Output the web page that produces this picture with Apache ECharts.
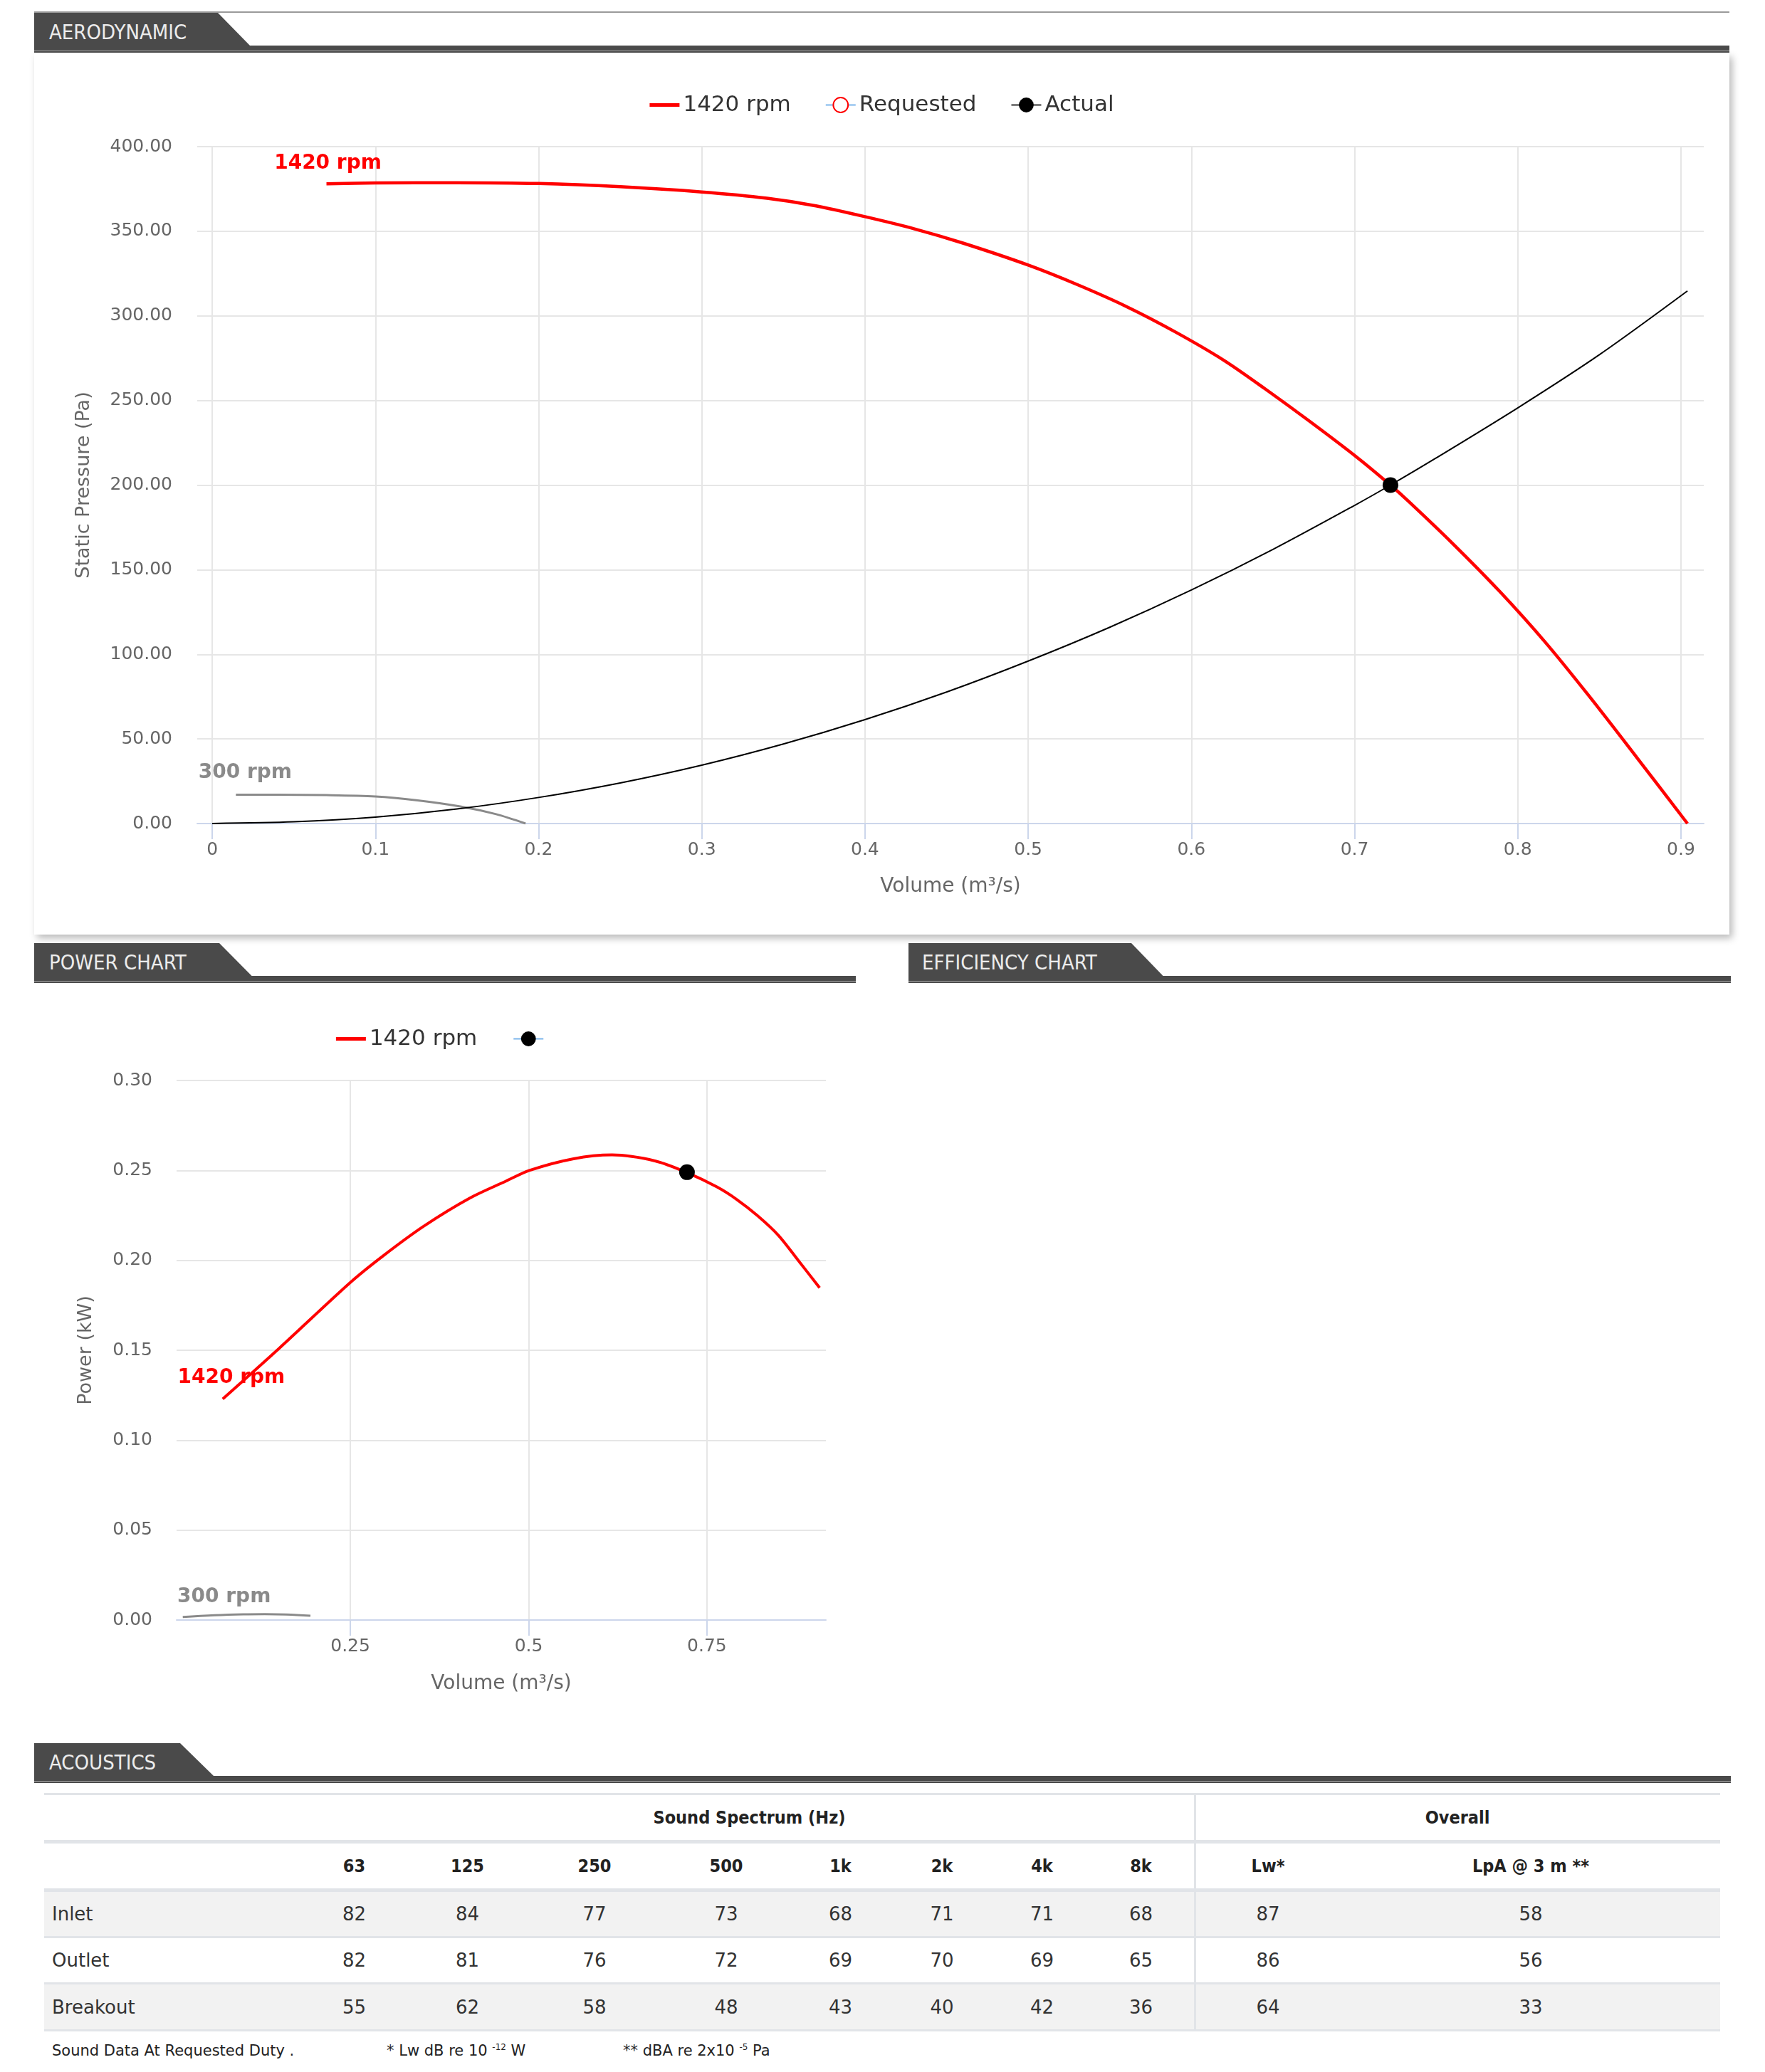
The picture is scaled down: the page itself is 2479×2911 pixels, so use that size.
<!DOCTYPE html>
<html>
<head>
<meta charset="utf-8">
<script src="https://cdn.jsdelivr.net/npm/echarts@6/dist/echarts.min.js"></script>
<style>
html,body{margin:0;padding:0;background:#fff;}
body{width:2479px;height:2911px;position:relative;overflow:hidden;font-family:"DejaVu Sans",sans-serif;}
.tab{position:absolute;background:#4a4a4a;}
.tabtext{position:absolute;color:#ececec;font-family:"DejaVu Sans Condensed","DejaVu Sans",sans-serif;font-stretch:condensed;font-size:29px;white-space:nowrap;}
.bar{position:absolute;background:#4a4a4a;height:10px;}
.bar .hl{position:absolute;left:0;right:0;top:7px;height:1px;background:#a8a8a8;}
#aeroCard{position:absolute;left:48px;top:75px;width:2381px;height:1238px;background:#fff;box-shadow:4px 5px 10px rgba(0,0,0,0.28);}
#aeroChart{position:absolute;left:0;top:0;width:2381px;height:1238px;}
#powerChart{position:absolute;left:48px;top:1381px;width:1154px;height:1040px;}
.cell{position:absolute;display:flex;align-items:center;justify-content:center;white-space:nowrap;}
.hdr{font-family:"DejaVu Sans Condensed","DejaVu Sans",sans-serif;font-stretch:condensed;font-weight:bold;font-size:25px;color:#222;}
.val{font-family:"DejaVu Sans",sans-serif;font-size:26px;color:#333;}
.rowlbl{justify-content:flex-start;padding-left:11px;box-sizing:border-box;}
.line{position:absolute;background:#e1e4e8;}
.foot{position:absolute;font-family:"DejaVu Sans",sans-serif;font-size:21px;color:#222;white-space:nowrap;top:2869px;}
.foot sup{font-size:12px;vertical-align:8px;}
</style>
</head>
<body>
<div style="position:absolute;left:48px;top:16px;width:2381px;height:2px;background:#9a9a9a;"></div>
<div id="aeroCard"><div id="aeroChart"></div></div>
<div id="powerChart"></div>
<div id="acoustics"></div>
<script>
// ---------------- DATA ----------------
// Aerodynamic chart: fan curve at 1420 rpm (volume m3/s, static pressure Pa)
const fan1420Volume   = [0.070, 0.100, 0.150, 0.200, 0.250, 0.300, 0.340, 0.370, 0.400, 0.430, 0.460, 0.500, 0.530, 0.560, 0.590, 0.620, 0.645, 0.673, 0.702, 0.722, 0.733, 0.760, 0.789, 0.817, 0.844, 0.873, 0.904];
const fan1420Pressure = [378.0, 378.5, 378.7, 378.2, 376.3, 373.2, 369.5, 365.0, 358.6, 351.5, 343.0, 330.0, 318.5, 305.6, 290.6, 273.7, 257.0, 237.3, 216.0, 200.0, 190.5, 165.6, 137.1, 107.0, 75.0, 39.0, 0.0];
// fan curve at 300 rpm
const fan300Volume   = [0.0145, 0.040, 0.070, 0.100, 0.125, 0.152, 0.174, 0.192];
const fan300Pressure = [17.0, 17.0, 16.8, 16.0, 13.8, 10.1, 5.5, 0.0];
// system resistance curve
const systemVolume   = [0.000, 0.050, 0.100, 0.150, 0.200, 0.250, 0.300, 0.350, 0.400, 0.450, 0.500, 0.550, 0.600, 0.650, 0.700, 0.722, 0.750, 0.800, 0.850, 0.904];
const systemPressure = [0.0, 1.0, 3.8, 8.6, 15.4, 24.0, 34.5, 47.0, 61.4, 77.7, 96.0, 116.0, 138.0, 162.0, 188.0, 200.0, 216.0, 245.6, 277.0, 314.7];
// duty point
const dutyVolume   = [0.722];
const dutyPressure = [200.0];
const dutyPower    = [0.249];
// Power chart (volume m3/s, power kW)
const power1420Volume = [0.071, 0.150, 0.250, 0.296, 0.353, 0.417, 0.468, 0.501, 0.563, 0.617, 0.678, 0.722, 0.764, 0.792, 0.821, 0.850, 0.878, 0.908];
const power1420kW     = [0.1229, 0.1510, 0.1877, 0.2025, 0.2190, 0.2345, 0.2440, 0.2500, 0.2565, 0.2586, 0.2552, 0.2488, 0.2408, 0.2338, 0.2248, 0.2140, 0.2000, 0.1847];
const power300Volume  = [0.015, 0.060, 0.100, 0.130, 0.160, 0.194];
const power300kW      = [0.0017, 0.0027, 0.0032, 0.0033, 0.0031, 0.0024];
// axis ticks
const aeroVolumeTicks  = [0, 0.1, 0.2, 0.3, 0.4, 0.5, 0.6, 0.7, 0.8, 0.9];
const powerVolumeTicks = [0.25, 0.5, 0.75];
// Acoustics table
const bandLabels   = ['63', '125', '250', '500', '1k', '2k', '4k', '8k'];
const overallLabels = ['Lw*', 'LpA @ 3 m **'];
const rowNames     = ['Inlet', 'Outlet', 'Breakout'];
const inletValues    = [82, 84, 77, 73, 68, 71, 71, 68, 87, 58];
const outletValues   = [82, 81, 76, 72, 69, 70, 69, 65, 86, 56];
const breakoutValues = [55, 62, 58, 48, 43, 40, 42, 36, 64, 33];

// ---------------- SECTION TABS ----------------
function section(L, R, T, slantTop, slantBottom, title, textLeft){
  const tab = document.createElement('div');
  tab.className = 'tab';
  const w = slantBottom - L;
  tab.style.cssText = `left:${L}px;top:${T}px;width:${w}px;height:46px;clip-path:polygon(0 0, ${slantTop-L}px 0, 100% 100%, 0 100%);`;
  document.body.appendChild(tab);
  const bar = document.createElement('div');
  bar.className = 'bar';
  bar.style.cssText = `left:${L}px;top:${T+46}px;width:${R-L}px;`;
  bar.innerHTML = '<div class="hl"></div>';
  document.body.appendChild(bar);
  const t = document.createElement('div');
  t.className = 'tabtext';
  t.style.cssText = `left:${textLeft}px;top:${T+2}px;height:46px;line-height:50px;`;
  t.textContent = title;
  document.body.appendChild(t);
}
section(48, 2429, 18, 306, 351, 'AERODYNAMIC', 69);
section(48, 1202, 1325, 308, 353.5, 'POWER CHART', 69);
section(1275.6, 2431, 1325, 1589, 1633.5, 'EFFICIENCY CHART', 1295);
section(48, 2431, 2449, 253, 300, 'ACOUSTICS', 69);

// ---------------- CHARTS ----------------
const pairs = (xs, ys) => xs.map((x, i) => [x, ys[i]]);
const axisText = {fontFamily: 'DejaVu Sans', fontSize: 25, color: '#666666'};
const nameText = {fontFamily: 'DejaVu Sans', fontSize: 28, color: '#666666'};
const legendText = {fontFamily: 'DejaVu Sans', fontSize: 31, color: '#333333'};
const lineIcon = 'path://M0,0L44,0L44,5L0,5Z';

function seriesLabel(text, color, x, y, offset){
  return {
    symbol: 'circle', symbolSize: 1, silent: true,
    itemStyle: {color: 'rgba(0,0,0,0)'},
    data: [{coord: [x, y], label: {show: true, position: 'inside', offset: offset, formatter: text,
      color: color, fontFamily: 'DejaVu Sans', fontWeight: 'bold', fontSize: 28}}]
  };
}

const aero = echarts.init(document.getElementById('aeroChart'), null, {renderer: 'canvas'});
aero.setOption({
  animation: false,
  grid: {left: 229, right: 36, top: 131, bottom: 156},
  legend: {
    top: 52, left: 'center', itemWidth: 42, itemHeight: 26, itemGap: 48,
    textStyle: legendText,
    data: [{name: '1420 rpm', icon: lineIcon}, 'Requested', 'Actual']
  },
  xAxis: {
    type: 'value', min: -0.0092, max: 0.914,
    name: 'Volume (m³/s)', nameLocation: 'middle', nameGap: 75, nameTextStyle: nameText,
    axisLine: {show: true, onZero: false, lineStyle: {color: '#ccd6eb', width: 2}},
    axisTick: {show: true, length: 22, lineStyle: {color: '#ccd6eb', width: 2}, customValues: aeroVolumeTicks},
    axisLabel: Object.assign({customValues: aeroVolumeTicks, margin: 25, formatter: v => String(+v.toFixed(2))}, axisText),
    splitLine: {show: true, lineStyle: {color: '#e6e6e6', width: 2}}
  },
  yAxis: {
    type: 'value', min: 0, max: 400, interval: 50,
    name: 'Static Pressure (Pa)', nameLocation: 'middle', nameGap: 146,
    nameTextStyle: Object.assign({}, nameText, {fontSize: 27}),
    axisLine: {show: false}, axisTick: {show: false},
    axisLabel: Object.assign({margin: 35, formatter: v => v.toFixed(2)}, axisText),
    splitLine: {show: true, lineStyle: {color: '#e6e6e6', width: 2}}
  },
  series: [
    {name: '300 rpm', type: 'line', symbol: 'none', smooth: 0.3, data: pairs(fan300Volume, fan300Pressure),
      lineStyle: {color: '#8a8a8a', width: 3}, itemStyle: {color: '#8a8a8a'},
      markPoint: seriesLabel('300 rpm', '#8a8a8a', fan300Volume[0], fan300Pressure[0], [13, -31])},
    {name: 'System', type: 'line', symbol: 'none', smooth: 0.3, data: pairs(systemVolume, systemPressure),
      lineStyle: {color: '#000000', width: 2}, itemStyle: {color: '#000000'}},
    {name: '1420 rpm', type: 'line', symbol: 'none', smooth: 0.3, data: pairs(fan1420Volume, fan1420Pressure),
      lineStyle: {color: '#ff0000', width: 4.5}, itemStyle: {color: '#ff0000'},
      markPoint: seriesLabel('1420 rpm', '#ff0000', fan1420Volume[0], fan1420Pressure[0], [2, -29])},
    {name: 'Requested', type: 'line', symbol: 'circle', symbolSize: 18, data: pairs(dutyVolume, dutyPressure),
      lineStyle: {color: '#7cb5ec', width: 2}, itemStyle: {color: '#ffffff', borderColor: '#ff0000', borderWidth: 2}},
    {name: 'Actual', type: 'line', symbol: 'circle', symbolSize: 22, data: pairs(dutyVolume, dutyPressure),
      lineStyle: {color: '#333333', width: 2}, itemStyle: {color: '#000000'}}
  ]
});

const power = echarts.init(document.getElementById('powerChart'), null, {renderer: 'canvas'});
power.setOption({
  animation: false,
  grid: {left: 200, right: 42, top: 137, bottom: 145},
  legend: {
    top: 58, left: 'center', itemWidth: 42, itemHeight: 26, itemGap: 50,
    textStyle: legendText,
    data: [{name: '1420 rpm', icon: lineIcon}, ' ']
  },
  xAxis: {
    type: 'value', min: 0.0063, max: 0.9168,
    name: 'Volume (m³/s)', nameLocation: 'middle', nameGap: 76, nameTextStyle: nameText,
    axisLine: {show: true, onZero: false, lineStyle: {color: '#ccd6eb', width: 2}},
    axisTick: {show: true, length: 22, lineStyle: {color: '#ccd6eb', width: 2}, customValues: powerVolumeTicks},
    axisLabel: Object.assign({customValues: powerVolumeTicks, margin: 25, formatter: v => String(+v.toFixed(2))}, axisText),
    splitLine: {show: true, lineStyle: {color: '#e6e6e6', width: 2}}
  },
  yAxis: {
    type: 'value', min: 0, max: 0.30, interval: 0.05,
    name: 'Power (kW)', nameLocation: 'middle', nameGap: 114,
    nameTextStyle: Object.assign({}, nameText, {fontSize: 27}),
    axisLine: {show: false}, axisTick: {show: false},
    axisLabel: Object.assign({margin: 34, formatter: v => v.toFixed(2)}, axisText),
    splitLine: {show: true, lineStyle: {color: '#e6e6e6', width: 2}}
  },
  series: [
    {name: '300 rpm', type: 'line', symbol: 'none', smooth: 0.4, data: pairs(power300Volume, power300kW),
      lineStyle: {color: '#8a8a8a', width: 3}, itemStyle: {color: '#8a8a8a'},
      markPoint: seriesLabel('300 rpm', '#8a8a8a', power300Volume[0], power300kW[0], [58, -28])},
    {name: '1420 rpm', type: 'line', symbol: 'none', smooth: 0.3, data: pairs(power1420Volume, power1420kW),
      lineStyle: {color: '#ff0000', width: 4}, itemStyle: {color: '#ff0000'},
      markPoint: seriesLabel('1420 rpm', '#ff0000', power1420Volume[0], power1420kW[0], [12, -30])},
    {name: ' ', type: 'line', symbol: 'circle', symbolSize: 22, data: pairs(dutyVolume, dutyPower),
      lineStyle: {color: '#7cb5ec', width: 2}, itemStyle: {color: '#000000'}}
  ]
});

// ---------------- ACOUSTICS TABLE ----------------
const host = document.getElementById('acoustics');
const colEdges = [62, 427, 568, 745, 925, 1115, 1246, 1400, 1527, 1678, 1884, 2416];
const bands = [[2522, 2585], [2590, 2653], [2658, 2720], [2723, 2785], [2788, 2851]];
function add(cls, css, html){
  const d = document.createElement('div');
  d.className = cls; d.style.cssText = css; if (html !== undefined) d.innerHTML = html;
  host.appendChild(d); return d;
}
// row fills
[2, 4].forEach(r => add('line', `left:62px;width:2354px;top:${bands[r][0]}px;height:${bands[r][1]-bands[r][0]}px;background:#f2f2f2;`));
// horizontal rules
[[2519, 3], [2585, 5], [2653, 5], [2720, 3], [2785, 3], [2851, 3]].forEach(([y, h]) =>
  add('line', `left:62px;width:2354px;top:${y}px;height:${h}px;`));
// vertical separator
add('line', `left:1677px;width:3px;top:2519px;height:335px;`);
function cell(c0, c1, r, text, cls){
  const x0 = colEdges[c0], x1 = colEdges[c1];
  return add('cell ' + cls, `left:${x0}px;width:${x1-x0}px;top:${bands[r][0]}px;height:${bands[r][1]-bands[r][0]}px;`, text);
}
cell(1, 9, 0, 'Sound Spectrum (Hz)', 'hdr');
cell(9, 11, 0, 'Overall', 'hdr');
bandLabels.concat(overallLabels).forEach((t, i) => cell(i + 1, i + 2, 1, t, 'hdr'));
[inletValues, outletValues, breakoutValues].forEach((vals, r) => {
  cell(0, 1, r + 2, rowNames[r], 'val rowlbl');
  vals.forEach((v, i) => cell(i + 1, i + 2, r + 2, String(v), 'val'));
});
add('foot', 'left:73px;', 'Sound Data At Requested Duty .');
add('foot', 'left:543px;', '* Lw dB re 10 <sup>-12</sup> W');
add('foot', 'left:875px;', '** dBA re 2x10 <sup>-5</sup> Pa');
</script>
</body>
</html>
